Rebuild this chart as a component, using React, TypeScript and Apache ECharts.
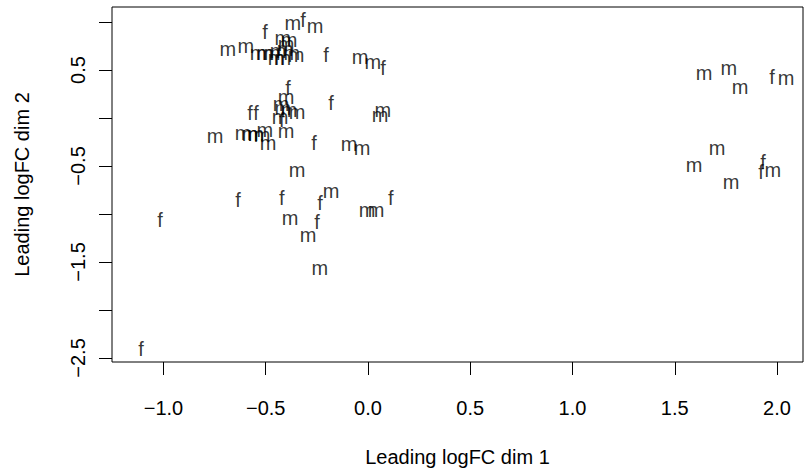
import React, { useEffect, useRef } from "react";
import * as echarts from "echarts";

const sampleGroup: string[] = [
  "m", "m", "m", "m", "m", "m", "m", "m", "m", "m", "m", "f", "m", "f", "m", "m", "m", "m", "f", "m", "m", "f",
  "f", "m", "m", "m", "f", "f", "m", "m", "m", "f", "f", "m", "m", "m", "m", "m", "m", "m", "m", "m", "m", "f", "m", "m",
  "m", "f", "f", "m", "f", "m", "m", "m", "f", "f", "m", "f", "m", "f",
  "m", "m", "m", "f", "m", "m", "m", "m", "f", "f", "m",
];

const dim1: number[] = [
  -0.685, -0.597, -0.538, -0.504, -0.469, -0.44, -0.406, -0.372, -0.352, -0.45, -0.416, -0.504, -0.367, -0.318, -0.259, -0.416, -0.386, -0.401, -0.205, -0.039, 0.024, 0.073,
  -0.391, -0.401, -0.425, -0.386, -0.577, -0.548, -0.416, -0.347, -0.43, -0.421, -0.181, 0.073, 0.059, -0.504, -0.748, -0.611, -0.577, -0.548, -0.518, -0.489, -0.401, -0.264, -0.093, -0.029,
  -0.347, -0.636, -0.421, -0.181, -0.235, -0.381, -0.005, 0.039, 0.112, -0.249, -0.293, -1.017, -0.235, -1.11,
  1.643, 1.765, 1.819, 1.976, 2.044, 1.707, 1.594, 1.775, 1.932, 1.922, 1.98,
];

const dim2: number[] = [
  0.719, 0.75, 0.677, 0.677, 0.677, 0.698, 0.719, 0.677, 0.656, 0.625, 0.625, 0.896, 0.99, 1.021, 0.958, 0.833, 0.8125, 0.771, 0.656, 0.635, 0.583, 0.521,
  0.3125, 0.219, 0.146, 0.083, 0.052, 0.052, 0.104, 0.0625, 0.01, -0.021, 0.156, 0.083, 0.031, -0.125, -0.1875, -0.156, -0.167, -0.167, -0.177, -0.26, -0.135, -0.26, -0.271, -0.3125,
  -0.542, -0.854, -0.833, -0.76, -0.885, -1.042, -0.958, -0.958, -0.833, -1.083, -1.219, -1.0625, -1.5625, -2.406,
  0.469, 0.521, 0.323, 0.427, 0.417, -0.3125, -0.49, -0.667, -0.458, -0.5625, -0.542,
];

const xTicks: number[] = [-1.0, -0.5, 0.0, 0.5, 1.0, 1.5, 2.0];
const yTicks: number[] = [-2.5, -2.0, -1.5, -1.0, -0.5, 0.0, 0.5, 1.0];
const yTickLabels: number[] = [-2.5, -1.5, -0.5, 0.5];

const xTitle = "Leading logFC dim 1";
const yTitle = "Leading logFC dim 2";

const FONT = "'Liberation Sans', Arial, Helvetica, sans-serif";
const FS = 20;

const fmt = (v: number) => Number(v).toFixed(1).replace("-", "\u2212");

export default function App() {
  const ref = useRef<HTMLDivElement>(null);
  useEffect(() => {
    if (!ref.current) return;
    const chart = echarts.init(ref.current, undefined, { renderer: "svg" });
    const data = sampleGroup.map((g, i) => ({ value: [dim1[i], dim2[i]], name: g }));
    chart.setOption({
      animation: false,
      backgroundColor: "#ffffff",
      grid: {
        left: 112,
        right: 2,
        top: 7,
        bottom: 112,
        show: true,
        borderColor: "#000000",
        borderWidth: 1,
        backgroundColor: "transparent",
      },
      xAxis: {
        type: "value",
        min: -1.2518,
        max: 2.1271,
        name: xTitle,
        nameLocation: "middle",
        nameGap: 85,
        nameTextStyle: { fontFamily: FONT, fontSize: FS, color: "#000" },
        splitLine: { show: false },
        axisLine: { show: false, onZero: false },
        axisTick: {
          show: true,
          inside: false,
          length: 13,
          customValues: xTicks,
          lineStyle: { color: "#000", width: 1 },
        },
        axisLabel: {
          show: true,
          customValues: xTicks,
          margin: 36,
          fontFamily: FONT,
          fontSize: FS,
          color: "#000",
          verticalAlign: "top",
          formatter: (v: number) => fmt(v),
        },
      },
      yAxis: {
        type: "value",
        min: -2.5417,
        max: 1.156,
        name: yTitle,
        nameLocation: "middle",
        nameGap: 80,
        nameRotate: 90,
        nameTextStyle: { fontFamily: FONT, fontSize: FS, color: "#000" },
        splitLine: { show: false },
        axisLine: { show: false, onZero: false },
        axisTick: {
          show: true,
          inside: false,
          length: 13,
          customValues: yTicks,
          lineStyle: { color: "#000", width: 1 },
        },
        axisLabel: {
          show: true,
          customValues: yTickLabels,
          rotate: 90,
          margin: 24,
          fontFamily: FONT,
          fontSize: FS,
          color: "#000",
          formatter: (v: number) => fmt(v),
        },
      },
      series: [
        {
          type: "scatter",
          data,
          symbolSize: 1,
          itemStyle: { color: "rgba(0,0,0,0)" },
          label: {
            show: true,
            position: "inside",
            formatter: (p: any) => p.name,
            fontFamily: FONT,
            fontSize: FS,
            color: "#000",
            textBorderWidth: 0,
            align: "center",
            verticalAlign: "middle",
          },
          labelLayout: { hideOverlap: false },
          emphasis: { disabled: true },
        },
      ],
    });
    return () => chart.dispose();
  }, []);
  return (
    <div
      ref={ref}
      style={{ position: "absolute", left: 0, top: 0, width: 805, height: 474 }}
    />
  );
}
